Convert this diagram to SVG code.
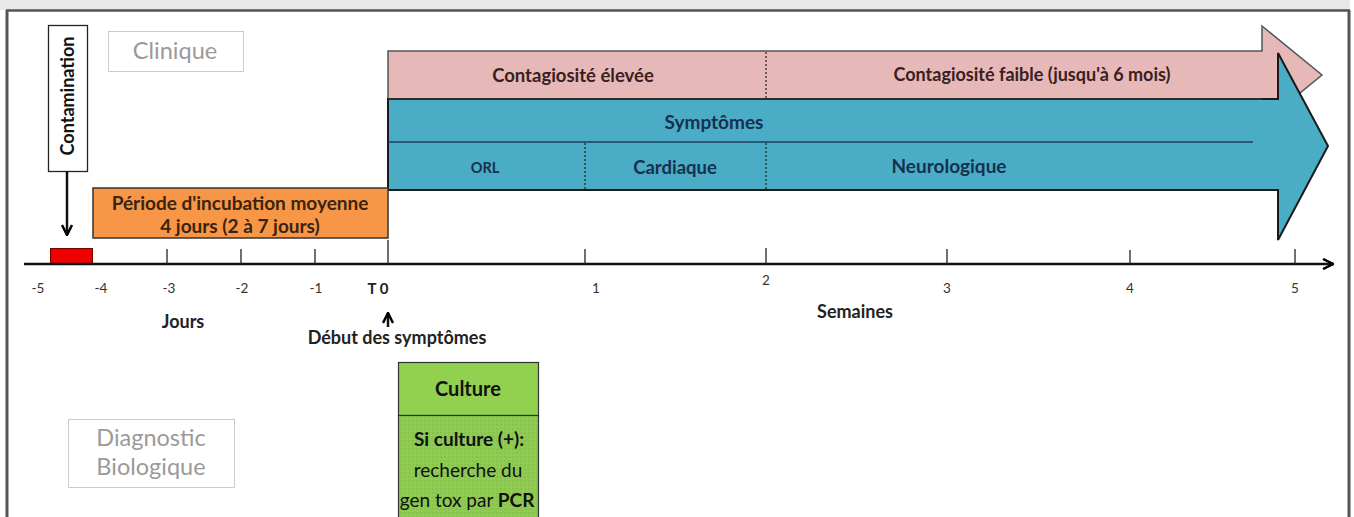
<svg xmlns="http://www.w3.org/2000/svg" width="1354" height="517" viewBox="0 0 1354 517">
<style>
.t{font-family:Lato,"Open Sans","Liberation Sans",sans-serif;}
.b{font-weight:bold;}
.lbl{font-size:18.5px;fill:#3a2020;font-weight:bold;}
.blu{font-size:19px;fill:#17304f;font-weight:bold;}
.num{font-size:13.5px;fill:#333;}
.ax{font-size:18px;fill:#222;font-weight:bold;}
.gray{font-size:23.5px;fill:#9a9a9a;}
.tick{stroke:#222;stroke-width:1.3;}
.dot{stroke:#222;stroke-width:1.2;stroke-dasharray:2 2;}
</style>
<defs>
<marker id="chev" viewBox="0 0 12 12" refX="11" refY="6" markerWidth="12" markerHeight="12" markerUnits="userSpaceOnUse" orient="auto">
<path d="M1,1 L11,6 L1,11" fill="none" stroke="#000" stroke-width="2.5"/>
</marker>
<pattern id="dots" width="4" height="4" patternUnits="userSpaceOnUse">
<rect width="4" height="4" fill="#8fcb52"/>
<circle cx="1" cy="1" r="0.7" fill="#7bb544"/>
</pattern>
</defs>
<rect width="1354" height="517" fill="#fff"/>
<g id="frame">
<rect x="0" y="0" width="1350" height="10" fill="#e8e8e8"/>
<line x1="6" y1="10.5" x2="1350" y2="10.5" stroke="#555" stroke-width="2.5"/>
<line x1="7" y1="10" x2="7" y2="517" stroke="#555" stroke-width="3"/>
<line x1="1349" y1="10" x2="1349" y2="517" stroke="#555" stroke-width="3"/>
</g>
<g id="clinique">
<rect x="108.5" y="31.5" width="135" height="40" fill="#fff" stroke="#ccc" stroke-width="1"/>
<text class="t gray" x="175" y="59" text-anchor="middle">Clinique</text>
</g>
<g id="diagnostic">
<rect x="68.5" y="419.5" width="166" height="68" fill="#fff" stroke="#ccc" stroke-width="1"/>
<text class="t gray" x="151" y="446" text-anchor="middle">Diagnostic</text>
<text class="t gray" x="151" y="475" text-anchor="middle">Biologique</text>
</g>
<g id="contagiosite">
<polygon points="388,51 1262,51 1262,26 1322,75 1262,124 1262,99 388,99" fill="#e6b9b8" stroke="#555" stroke-width="1.5"/>
<line class="dot" x1="766" y1="52" x2="766" y2="98"/>
<text class="t lbl" x="573" y="82" text-anchor="middle">Contagiosité élevée</text>
<text class="t lbl" x="1032" y="81" text-anchor="middle" style="font-size:18px">Contagiosité faible (jusqu'à 6 mois)</text>
</g>
<g id="symptomes">
<polygon points="388,99 1278,99 1278,53 1328,146 1278,240 1278,190 388,190" fill="#4bacc6" stroke="#1a1a1a" stroke-width="2"/>
<line x1="388" y1="142" x2="1253" y2="142" stroke="#1f3d5a" stroke-width="1.5"/>
<line x1="388" y1="99" x2="1262" y2="99" stroke="#333" stroke-width="1.5"/>
<line class="dot" x1="585" y1="143" x2="585" y2="189"/>
<line class="dot" x1="766" y1="143" x2="766" y2="189"/>
<text class="t blu" x="714" y="129" text-anchor="middle">Symptômes</text>
<text class="t blu" x="485" y="173" text-anchor="middle" style="font-size:14.5px">ORL</text>
<text class="t blu" x="675" y="174" text-anchor="middle" style="font-size:18.5px">Cardiaque</text>
<text class="t blu" x="949" y="173" text-anchor="middle">Neurologique</text>
</g>
<g id="incubation">
<rect x="93" y="188" width="295" height="50" fill="#f79646" stroke="#333" stroke-width="1.5"/>
<text class="t lbl" x="240" y="210" text-anchor="middle" style="fill:#3a2410;font-size:19px">Période d'incubation moyenne</text>
<text class="t lbl" x="240" y="233" text-anchor="middle" style="fill:#3a2410;font-size:19px">4 jours (2 à 7 jours)</text>
</g>
<g id="contamination">
<rect x="48.5" y="25.5" width="39" height="146" fill="#fff" stroke="#222" stroke-width="1.3"/>
<text class="t b" x="0" y="0" text-anchor="middle" font-size="18" fill="#111" transform="translate(74,96) rotate(-90)">Contamination</text>
</g>
<g id="red">
<rect x="50.5" y="248.5" width="42" height="15" fill="#e00" stroke="#700" stroke-width="1"/>
</g>
<g id="culture">
<rect x="398.5" y="362.5" width="140" height="53" fill="#92d050" stroke="#333" stroke-width="1.2"/>
<rect x="398.5" y="415.5" width="140" height="110" fill="url(#dots)" stroke="#333" stroke-width="1.2"/>
<text class="t b" x="468" y="396" text-anchor="middle" font-size="20" fill="#111">Culture</text>
<text class="t b" x="469" y="446" text-anchor="middle" font-size="19" fill="#111">Si culture (+):</text>
<text class="t" x="468" y="477" text-anchor="middle" font-size="19" fill="#111">recherche du</text>
<text class="t" x="467" y="507" text-anchor="middle" font-size="19" fill="#111">gen tox par <tspan font-weight="bold">PCR</tspan></text>
</g>
<g id="connectors">
<line x1="24" y1="264" x2="1333" y2="264" stroke="#111" stroke-width="2.5" marker-end="url(#chev)"/>
<line x1="67" y1="171" x2="67" y2="235" stroke="#111" stroke-width="2.5" marker-end="url(#chev)"/>
<line x1="388" y1="327" x2="388" y2="313" stroke="#111" stroke-width="2.5" marker-end="url(#chev)"/>
<line class="tick" x1="167" y1="249" x2="167" y2="264"/>
<line class="tick" x1="241" y1="249" x2="241" y2="264"/>
<line class="tick" x1="315" y1="249" x2="315" y2="264"/>
<line class="tick" x1="388" y1="240" x2="388" y2="264"/>
<line class="tick" x1="585" y1="249" x2="585" y2="264"/>
<line class="tick" x1="766" y1="248" x2="766" y2="264"/>
<line class="tick" x1="947" y1="249" x2="947" y2="264"/>
<line class="tick" x1="1130" y1="250" x2="1130" y2="264"/>
<line class="tick" x1="1295" y1="249" x2="1295" y2="264"/>
</g>
<g id="labels">
<text class="t num" x="38" y="293" text-anchor="middle">-5</text>
<text class="t num" x="101" y="293" text-anchor="middle">-4</text>
<text class="t num" x="169" y="293" text-anchor="middle">-3</text>
<text class="t num" x="242" y="293" text-anchor="middle">-2</text>
<text class="t num" x="316" y="293" text-anchor="middle">-1</text>
<text class="t b" x="378" y="294" text-anchor="middle" font-size="15" fill="#222">T 0</text>
<text class="t num" x="596" y="293" text-anchor="middle">1</text>
<text class="t num" x="766" y="285" text-anchor="middle">2</text>
<text class="t num" x="947" y="293" text-anchor="middle">3</text>
<text class="t num" x="1130" y="293" text-anchor="middle">4</text>
<text class="t num" x="1295" y="293" text-anchor="middle">5</text>
<text class="t ax" x="183" y="328" text-anchor="middle">Jours</text>
<text class="t ax" x="855" y="318" text-anchor="middle">Semaines</text>
<text class="t ax" x="397" y="344" text-anchor="middle">Début des symptômes</text>
</g>
</svg>
